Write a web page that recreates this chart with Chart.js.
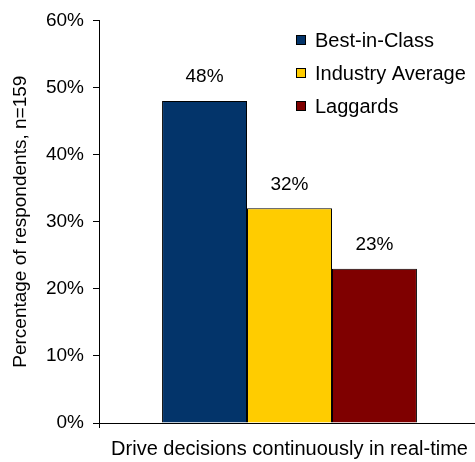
<!DOCTYPE html>
<html>
<head>
<meta charset="utf-8">
<script src="https://cdn.jsdelivr.net/npm/chart.js@4/dist/chart.umd.min.js"></script>
<style>
  html, body { margin: 0; padding: 0; background: #fff; overflow: hidden; }
  #wrap { width: 480px; height: 462px; position: relative; }
</style>
</head>
<body>
<div id="wrap"><canvas id="DecisionChart"></canvas></div>
<script>
// 回答者の割合
var categories = ['Drive decisions continuously in real-time'];
var seriesNames = ['Best-in-Class', 'Industry Average', 'Laggards'];
var bestInClass = [48];
var industryAverage = [32];
var laggards = [23];
var seriesColors = ['#03346A', '#FFCC00', '#7F0000'];

var FONT = "'Liberation Sans', Arial, sans-serif";
var FS = 19;
var FS_BIG = 20;

// 棒の上に値を表示
var valueLabels = {
  id: 'valueLabels',
  afterDatasetsDraw: function(chart) {
    var ctx = chart.ctx;
    ctx.save();
    ctx.font = FS + 'px ' + FONT;
    ctx.fillStyle = '#000';
    ctx.textAlign = 'center';
    ctx.textBaseline = 'middle';
    chart.data.datasets.forEach(function(ds, i) {
      chart.getDatasetMeta(i).data.forEach(function(bar, j) {
        ctx.fillText(ds.data[j] + '%', bar.x, bar.y - 24);
      });
    });
    ctx.restore();
  }
};

// 右上の凡例
var boxLegend = {
  id: 'boxLegend',
  afterDraw: function(chart) {
    var ctx = chart.ctx;
    var x = 296, y0 = 40, step = 33, size = 10;
    ctx.save();
    ctx.font = FS_BIG + 'px ' + FONT;
    ctx.textBaseline = 'middle';
    chart.data.datasets.forEach(function(ds, i) {
      var y = y0 + i * step;
      ctx.fillStyle = ds.backgroundColor;
      ctx.fillRect(x, y - size / 2, size, size);
      ctx.strokeStyle = '#000';
      ctx.lineWidth = 1;
      ctx.strokeRect(x + 0.5, y - size / 2 + 0.5, size - 1, size - 1);
      ctx.fillStyle = '#000';
      ctx.fillText(ds.label, x + 19, y + 1);
    });
    ctx.restore();
  }
};

var ctx = document.getElementById('DecisionChart').getContext('2d');
var myChart = new Chart(ctx, {
  type: 'bar',
  data: {
    labels: categories,
    datasets: [
      { label: seriesNames[0], data: bestInClass, backgroundColor: seriesColors[0] },
      { label: seriesNames[1], data: industryAverage, backgroundColor: seriesColors[1] },
      { label: seriesNames[2], data: laggards, backgroundColor: seriesColors[2] }
    ]
  },
  options: {
    responsive: true,
    maintainAspectRatio: false,
    animation: false,
    layout: { autoPadding: false, padding: { top: 20, right: 0, bottom: 3, left: 0 } },
    datasets: {
      bar: {
        borderColor: '#000',
        borderWidth: 1,
        barPercentage: 1,
        categoryPercentage: 0.669
      }
    },
    plugins: {
      legend: { display: false },
      tooltip: { enabled: false }
    },
    scales: {
      x: {
        border: { color: '#000', width: 1 },
        grid: { drawOnChartArea: false, color: '#000', tickLength: 5 },
        ticks: { color: '#000', font: { family: FONT, size: FS_BIG }, padding: 9 },
        afterFit: function(scale) { scale.height = 36; }
      },
      y: {
        min: 0,
        max: 60,
        border: { color: '#000', width: 1 },
        grid: { drawOnChartArea: false, color: '#000', tickLength: 6 },
        ticks: {
          stepSize: 10,
          color: '#000',
          font: { family: FONT, size: FS },
          padding: 9,
          callback: function(v) { return v + '%'; }
        },
        title: {
          display: true,
          text: 'Percentage of respondents, n=159',
          color: '#000',
          font: { family: FONT, size: FS },
          padding: { top: 9, bottom: 0 }
        },
        afterFit: function(scale) { scale.width = 99; }
      }
    }
  },
  plugins: [valueLabels, boxLegend]
});
</script>
</body>
</html>
